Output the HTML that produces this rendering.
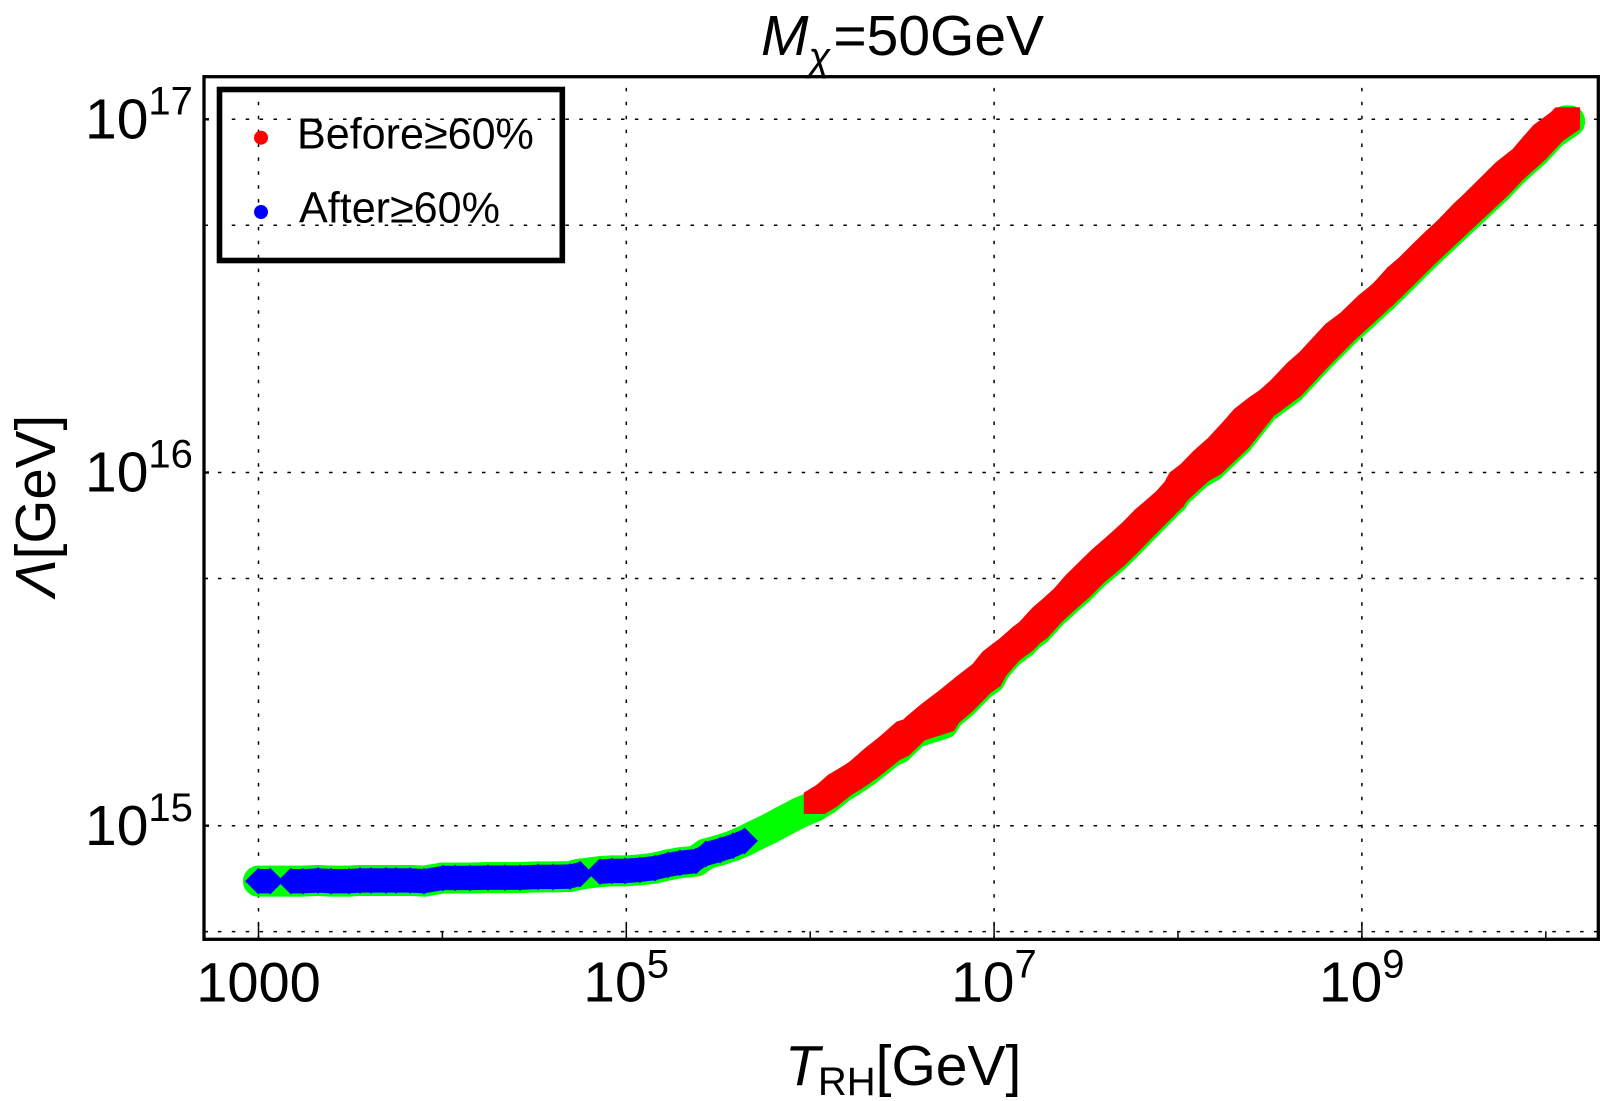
<!DOCTYPE html>
<html lang="en">
<head>
<meta charset="utf-8">
<title>Lambda vs reheating temperature</title>
<style>
html,body{margin:0;padding:0;background:#fff;width:1600px;height:1101px;overflow:hidden}
svg{display:block}
text{font-family:"Liberation Sans",sans-serif;fill:#000}
</style>
</head>
<body>
<svg id="chart" xmlns="http://www.w3.org/2000/svg" width="1600" height="1101" viewBox="0 0 1600 1101">
  <g id="grid"></g>
  <g id="ticks"></g>
  <g id="green"></g>
  <g id="blue"></g>
  <g id="red"></g>
  <rect x="204" y="76.7" width="1394.3" height="862.6" fill="none" stroke="#000" stroke-width="3.3"/>
  <g id="tick-labels"></g>
  <text x="761" y="55" font-size="57"><tspan font-style="italic">M</tspan><tspan font-style="italic" font-size="40" dy="15">χ</tspan><tspan dy="-15" dx="3">=50GeV</tspan></text>
  <text x="785" y="1085" font-size="57"><tspan font-style="italic">T</tspan><tspan font-size="40" dy="10" dx="-2">RH</tspan><tspan dy="-10" dx="0">[GeV]</tspan></text>
  <text transform="translate(55,597) rotate(-90)" font-size="56.5"><tspan font-style="italic">Λ</tspan>[GeV]</text>
  <g>
    <rect x="219.5" y="89.5" width="342.8" height="171" fill="none" stroke="#000" stroke-width="5.6"/>
    <circle cx="261" cy="137.7" r="7" fill="#ff0000"/>
    <text x="297" y="148.3" font-size="43.1">Before≥60%</text>
    <circle cx="261" cy="212" r="7" fill="#0000ff"/>
    <text x="299" y="222.7" font-size="43.1">After≥60%</text>
  </g>
</svg>
<script>
// Values are log10 of the quantity in GeV.
const blueLogT = [3.000,3.063,3.177,3.242,3.324,3.394,3.492,3.552,3.612,3.693,3.748,3.824,3.900,4.003,4.069,4.150,4.248,4.340,4.422,4.520,4.601,4.694,4.748,4.857,4.922,4.993,5.074,5.156,5.227,5.292,5.379,5.433,5.510,5.580,5.643];
const blueLogL = [14.843,14.843,14.843,14.843,14.845,14.843,14.843,14.845,14.845,14.845,14.845,14.845,14.843,14.852,14.852,14.852,14.853,14.853,14.853,14.855,14.855,14.856,14.863,14.870,14.872,14.872,14.875,14.880,14.889,14.895,14.900,14.920,14.931,14.943,14.957];
const gapLogT = [5.700,5.780,5.862,5.943];
const gapLogL = [14.972,14.992,15.015,15.037];
const redUpperLogT = [6.023,6.089,6.168,6.216,6.303,6.374,6.431,6.480,6.540,6.575,6.657,6.758,6.853,6.940,6.994,7.048,7.111,7.157,7.201,7.266,7.320,7.383,7.445,7.527,7.592,7.663,7.755,7.826,7.899,7.973,8.011,8.071,8.144,8.218,8.307,8.362,8.443,8.498,8.560,8.653,8.715,8.788,8.859,8.941,9.041,9.115,9.196,9.259,9.332,9.403,9.468,9.558,9.612,9.713,9.784,9.876,9.947,9.990,10.083,10.110,10.129];
const redUpperLogL = [15.063,15.084,15.117,15.132,15.163,15.192,15.216,15.228,15.258,15.277,15.313,15.353,15.393,15.428,15.463,15.485,15.509,15.527,15.551,15.588,15.612,15.642,15.679,15.721,15.754,15.786,15.829,15.867,15.899,15.933,15.970,15.994,16.033,16.067,16.117,16.150,16.183,16.202,16.231,16.282,16.310,16.351,16.391,16.423,16.473,16.504,16.551,16.579,16.617,16.653,16.684,16.733,16.759,16.811,16.848,16.886,16.929,16.954,16.990,17.004,17.004];
const redLowerLogT = [6.023,6.092,6.154,6.263,6.355,6.426,6.527,6.725,6.752,6.827,6.926,6.978,7.008,7.078,7.160,7.234,7.316,7.388,7.459,7.541,7.649,7.724,7.823,7.921,8.003,8.111,8.177,8.329,8.465,8.612,8.764,8.911,9.009,9.156,9.328,9.444,9.590,9.736,9.824,9.944,10.035,10.129];
const redLowerLogL = [15.064,15.086,15.114,15.148,15.190,15.219,15.265,15.298,15.321,15.354,15.406,15.425,15.454,15.496,15.534,15.562,15.609,15.643,15.675,15.718,15.765,15.803,15.856,15.907,15.955,16.006,16.025,16.100,16.190,16.246,16.331,16.408,16.454,16.525,16.614,16.671,16.742,16.813,16.861,16.917,16.968,17.002];
const xMajorTicks = [3,5,7,9];
const xMinorTicks = [4,6,8,10];
const yMajorTicks = [15,16,17];
const yMinorTicks = [14.7,15.7,16.7];
const xTickLabels = ["1000","10","10","10"];
const xTickExponents = ["","5","7","9"];
const yTickLabels = ["10","10","10"];
const yTickExponents = ["15","16","17"];

const xOf = function (v) { return 258.5 + 183.9 * (v - 3); };
const yOf = function (v) { return 825.7 - 353.2 * (v - 15); };
const NS = "http://www.w3.org/2000/svg";
const plotLeft = 204, plotRight = 1598.3, plotTop = 76.7, plotBottom = 939.3;

function make(tag, parent, attrs) {
  const node = document.createElementNS(NS, tag);
  for (const k in attrs) node.setAttribute(k, attrs[k]);
  document.getElementById(parent).appendChild(node);
  return node;
}
function pairs(ts, ls, dy) {
  return ts.map(function (v, i) { return [xOf(v), yOf(ls[i]) + dy]; });
}
function pointList(pts) {
  return pts.map(function (p) { return p[0] + "," + p[1]; }).join(" ");
}

// grid lines
xMajorTicks.forEach(function (v) {
  const line = make("line", "grid", {x1: xOf(v), x2: xOf(v), y1: plotBottom, y2: plotTop, stroke: "#000", "stroke-width": 1.5, "stroke-dasharray": "3.5 10.4"});
  
  
});
yMajorTicks.concat(yMinorTicks).forEach(function (v) {
  const line = make("line", "grid", {x1: plotLeft, x2: plotRight, y1: yOf(v), y2: yOf(v), stroke: "#000", "stroke-width": 1.5, "stroke-dasharray": "3.5 10.4"});
  
  
});

// ticks
xMajorTicks.forEach(function (v) {
  const t = make("line", "ticks", {x1: xOf(v), x2: xOf(v), y1: plotBottom, y2: plotBottom - 16, stroke: "#000", "stroke-width": 1.5});
  
  
});
xMinorTicks.forEach(function (v) {
  const t = make("line", "ticks", {x1: xOf(v), x2: xOf(v), y1: plotBottom, y2: plotBottom - 8, stroke: "#000", "stroke-width": 1.5});
  
  
});
yMajorTicks.forEach(function (v) {
  const t = make("line", "ticks", {x1: plotLeft, x2: plotLeft + 5, y1: yOf(v), y2: yOf(v), stroke: "#000", "stroke-width": 2.4});
  
  
});
yMinorTicks.forEach(function (v) {
  const t = make("line", "ticks", {x1: plotLeft, x2: plotLeft + 4, y1: yOf(v), y2: yOf(v), stroke: "#000", "stroke-width": 1.5});
  
  
});

// tick labels
function tickText(label, exponent, x, y, anchor) {
  const t = make("text", "tick-labels", {x: x, y: y, "font-size": exponent ? 57 : 56, "text-anchor": anchor});
  t.appendChild(document.createTextNode(label));
  if (exponent) {
    const s = document.createElementNS(NS, "tspan");
    s.setAttribute("font-size", "40");
    s.setAttribute("dy", "-24");
    s.textContent = exponent;
    t.appendChild(s);
  }
  return t;
}
xMajorTicks.forEach(function (v, i) {
  const isPlain = xTickExponents[i] === "";
  const t = tickText(xTickLabels[i], xTickExponents[i], isPlain ? xOf(v) : xOf(v) - 43, 1001.7, isPlain ? "middle" : "start");
  
  
});
yMajorTicks.forEach(function (v, i) {
  const t = tickText(yTickLabels[i], yTickExponents[i], 85, yOf(v) + 19.2, "start");
  
  
});

// green region: circles under every point, and a band joining them
const greenRadius = 15.5;
const greenShift = 3;
const lowPts = pairs(blueLogT, blueLogL, 0).concat(pairs(gapLogT, gapLogL, 0));
const greenUpper = pairs(redUpperLogT, redUpperLogL, greenShift);
const greenLower = pairs(redLowerLogT, redLowerLogL, greenShift);
const greenTail = make("polyline", "green", {points: pointList(lowPts.concat([greenUpper[0]])), fill: "none", stroke: "#00ff00", "stroke-width": greenRadius * 2, "stroke-linecap": "round", "stroke-linejoin": "round"});


const greenBand = make("polygon", "green", {points: pointList(greenUpper.concat(greenLower.slice().reverse())), fill: "#00ff00", stroke: "#00ff00", "stroke-width": greenRadius * 2, "stroke-linejoin": "round"});


lowPts.concat(greenUpper, greenLower).forEach(function (p) {
  const c = make("circle", "green", {cx: p[0], cy: p[1], r: greenRadius, fill: "#00ff00"});
  
  
});

// blue diamonds, joined except where the picture shows a notch
const blueHalf = 13.4;
const blueLinkHalf = 12.2;
const blueGap = 0.105;
blueLogT.forEach(function (v, i) {
  const x = xOf(v), y = yOf(blueLogL[i]), h = blueHalf, k = blueLinkHalf;
  const d = make("polygon", "blue", {points: (x - h) + "," + y + " " + x + "," + (y - h) + " " + (x + h) + "," + y + " " + x + "," + (y + h), fill: "#0000ff"});
  
  
  if (i > 0 && v - blueLogT[i - 1] <= blueGap) {
    const a = xOf(blueLogT[i - 1]), b = yOf(blueLogL[i - 1]);
    const link = make("polygon", "blue", {points: (a - k) + "," + b + " " + a + "," + (b - k) + " " + x + "," + (y - k) + " " + (x + k) + "," + y + " " + x + "," + (y + k) + " " + a + "," + (b + k), fill: "#0000ff"});
    
    
  }
});

// red squares: upper and lower edges of the scatter, filled between
const redHalf = 10.5;
function sweepPath(pts) {
  const h = redHalf;
  let d = "";
  for (let i = 1; i < pts.length; i++) {
    const a = pts[i - 1][0], b = pts[i - 1][1], x = pts[i][0], y = pts[i][1];
    d += "M" + (a - h) + " " + (b - h) + "L" + (x - h) + " " + (y - h) + "L" + (x + h) + " " + (y - h) + "L" + (x + h) + " " + (y + h) + "L" + (a + h) + " " + (b + h) + "L" + (a - h) + " " + (b + h) + "Z";
  }
  return d;
}
const redUpper = pairs(redUpperLogT, redUpperLogL, 0);
const redLower = pairs(redLowerLogT, redLowerLogL, 0);
const redCore = make("polygon", "red", {points: pointList(redUpper.concat(redLower.slice().reverse())), fill: "#ff0000"});


const redUpperEdge = make("path", "red", {d: sweepPath(redUpper), fill: "#ff0000"});


const redLowerEdge = make("path", "red", {d: sweepPath(redLower), fill: "#ff0000"});


redUpper.concat(redLower).forEach(function (p) {
  const r = make("rect", "red", {x: p[0] - redHalf, y: p[1] - redHalf, width: redHalf * 2, height: redHalf * 2, fill: "#ff0000"});
  
  
});
</script>
</body>
</html>
